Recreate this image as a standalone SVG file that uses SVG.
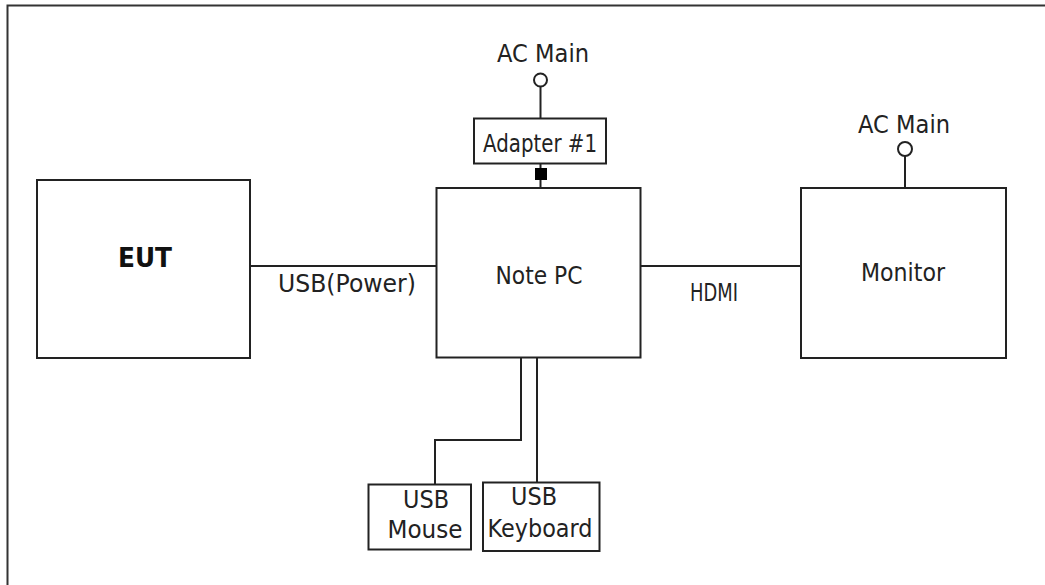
<svg xmlns="http://www.w3.org/2000/svg" width="1045" height="585" viewBox="0 0 1045 585">
<style>
.box{fill:#fff;stroke:#222;stroke-width:2}
.ln{fill:none;stroke:#222;stroke-width:2}
.t{font-family:"DejaVu Sans",sans-serif;font-size:24px;fill:#222}
.b{font-family:"DejaVu Sans",sans-serif;font-size:26px;font-weight:bold;fill:#111}
.m{text-anchor:middle}
</style>
<rect width="1045" height="585" fill="#fff"/>
<path d="M7.5,585 V5.5 H1045" fill="none" stroke="#333" stroke-width="2"/>
<g id="connectors">
<line class="ln" x1="250" y1="266" x2="436" y2="266"/>
<line class="ln" x1="640" y1="266" x2="801" y2="266"/>
<circle class="ln" cx="540.5" cy="80" r="6.5"/>
<line class="ln" x1="540.5" y1="86.5" x2="540.5" y2="118.5"/>
<line class="ln" x1="540.5" y1="163.5" x2="540.5" y2="188"/>
<rect x="535" y="168" width="12" height="12" fill="#000"/>
<circle class="ln" cx="905" cy="149" r="7"/>
<line class="ln" x1="905" y1="156" x2="905" y2="188"/>
<polyline class="ln" points="521,357 521,440 435,440 435,484"/>
<line class="ln" x1="537" y1="357" x2="537" y2="482"/>
<text class="t" x="278" y="292" textLength="138" lengthAdjust="spacingAndGlyphs">USB(Power)</text>
<text class="t" x="690" y="301" textLength="48" lengthAdjust="spacingAndGlyphs">HDMI</text>
<text class="t m" x="543" y="62" textLength="92" lengthAdjust="spacingAndGlyphs">AC Main</text>
<text class="t m" x="904" y="133" textLength="92" lengthAdjust="spacingAndGlyphs">AC Main</text>
</g>
<g id="eut">
<rect class="box" x="37" y="180" width="213" height="178"/>
<text class="b m" x="145" y="267" textLength="54" lengthAdjust="spacingAndGlyphs">EUT</text>
</g>
<g id="notepc">
<rect class="box" x="436.5" y="188" width="204" height="169.5"/>
<text class="t m" x="539" y="284" textLength="87" lengthAdjust="spacingAndGlyphs">Note PC</text>
</g>
<g id="adapter">
<rect class="box" x="474" y="118.5" width="132" height="45"/>
<text class="t m" x="540" y="152" textLength="114" lengthAdjust="spacingAndGlyphs">Adapter #1</text>
</g>
<g id="monitor">
<rect class="box" x="801" y="188" width="205" height="170"/>
<text class="t m" x="903" y="281" textLength="84" lengthAdjust="spacingAndGlyphs">Monitor</text>
</g>
<g id="mouse">
<rect class="box" x="368.5" y="484.5" width="102.5" height="65"/>
<text class="t m" x="426" y="508" textLength="46" lengthAdjust="spacingAndGlyphs">USB</text>
<text class="t m" x="425" y="538" textLength="75" lengthAdjust="spacingAndGlyphs">Mouse</text>
</g>
<g id="keyboard">
<rect class="box" x="483" y="482.5" width="116.5" height="68.5"/>
<text class="t m" x="534" y="505" textLength="46" lengthAdjust="spacingAndGlyphs">USB</text>
<text class="t m" x="540" y="537" textLength="105" lengthAdjust="spacingAndGlyphs">Keyboard</text>
</g>
</svg>
